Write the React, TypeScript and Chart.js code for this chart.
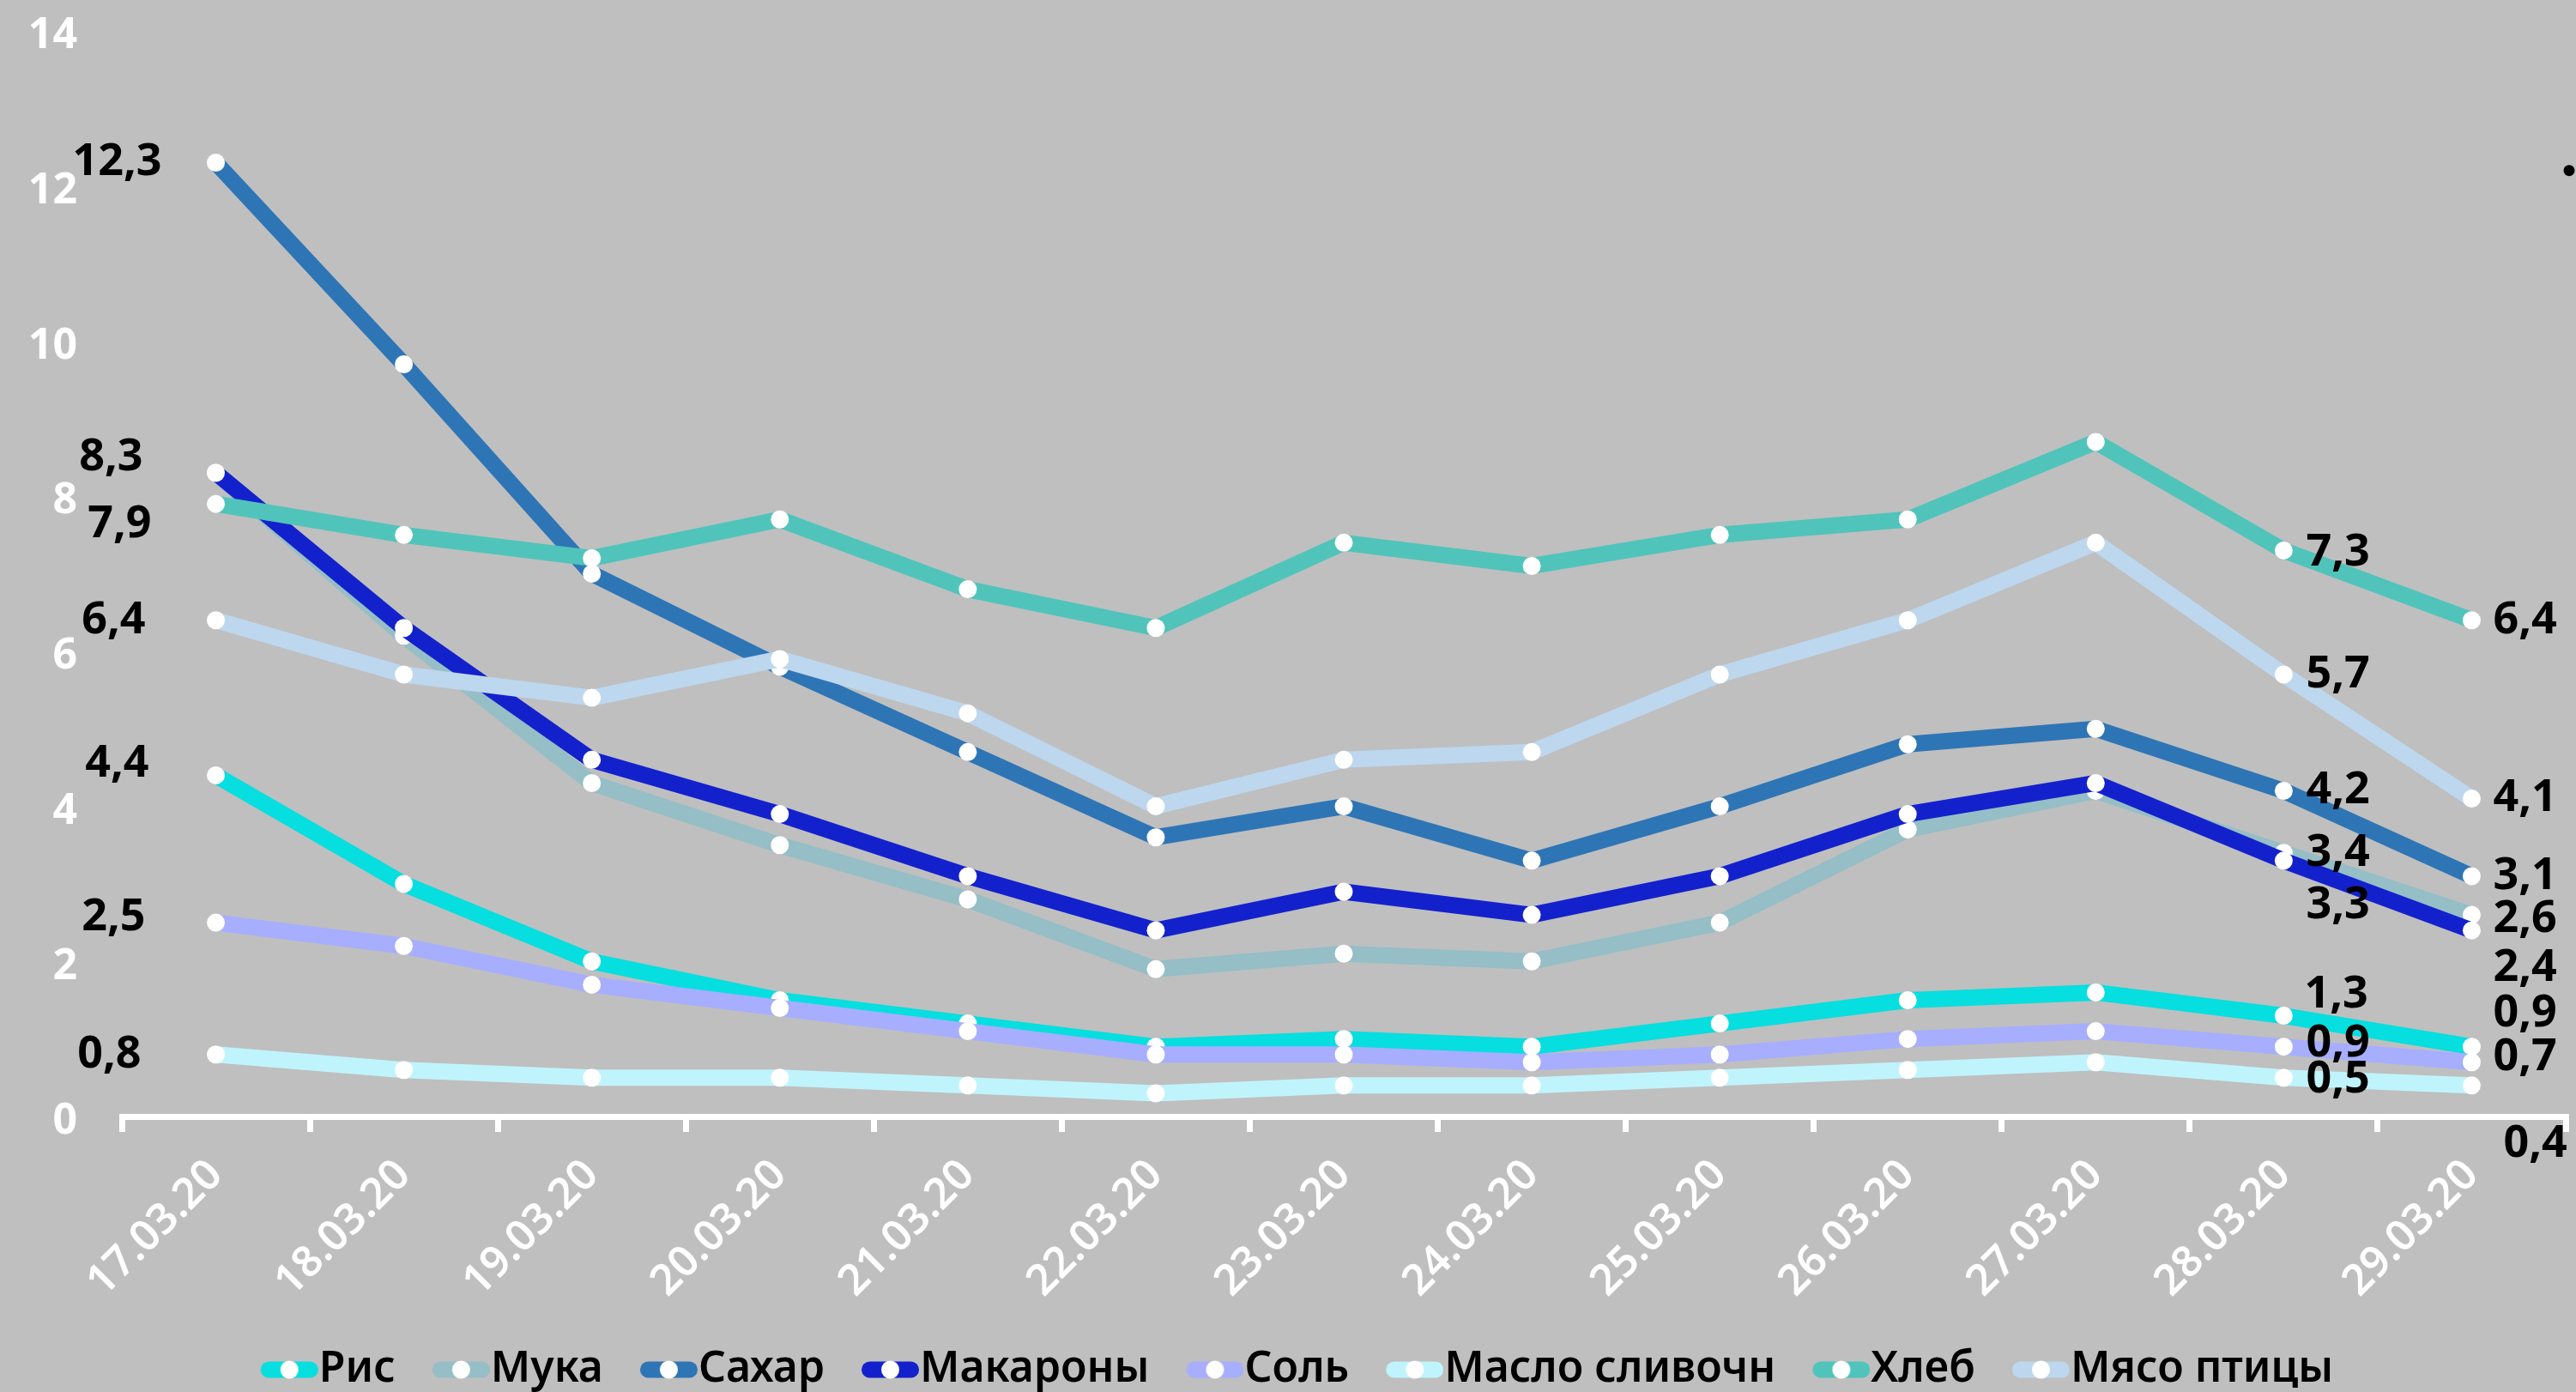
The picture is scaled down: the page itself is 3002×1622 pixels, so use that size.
import React, { useEffect, useRef } from 'react';
import { Chart, registerables } from 'chart.js';

Chart.register(...registerables);

// ---------- data ----------
const categories = [
  '17.03.20', '18.03.20', '19.03.20', '20.03.20', '21.03.20', '22.03.20', '23.03.20',
  '24.03.20', '25.03.20', '26.03.20', '27.03.20', '28.03.20', '29.03.20',
];
const seriesNames = ['Рис', 'Мука', 'Сахар', 'Макароны', 'Соль', 'Масло сливочн', 'Хлеб', 'Мясо птицы'];

const ris = [4.4, 3.0, 2.0, 1.5, 1.2, 0.9, 1.0, 0.9, 1.2, 1.5, 1.6, 1.3, 0.9];
const muka = [8.3, 6.2, 4.3, 3.5, 2.8, 1.9, 2.1, 2.0, 2.5, 3.7, 4.2, 3.4, 2.6];
const sakhar = [12.3, 9.7, 7.0, 5.8, 4.7, 3.6, 4.0, 3.3, 4.0, 4.8, 5.0, 4.2, 3.1];
const makarony = [8.3, 6.3, 4.6, 3.9, 3.1, 2.4, 2.9, 2.6, 3.1, 3.9, 4.3, 3.3, 2.4];
const sol = [2.5, 2.2, 1.7, 1.4, 1.1, 0.8, 0.8, 0.7, 0.8, 1.0, 1.1, 0.9, 0.7];
const maslo = [0.8, 0.6, 0.5, 0.5, 0.4, 0.3, 0.4, 0.4, 0.5, 0.6, 0.7, 0.5, 0.4];
const khleb = [7.9, 7.5, 7.2, 7.7, 6.8, 6.3, 7.4, 7.1, 7.5, 7.7, 8.7, 7.3, 6.4];
const myaso = [6.4, 5.7, 5.4, 5.9, 5.2, 4.0, 4.6, 4.7, 5.7, 6.4, 7.4, 5.7, 4.1];

const seriesValues = [ris, muka, sakhar, makarony, sol, maslo, khleb, myaso];

const yMin = 0;
const yMax = 14;
const yStep = 2;
const strayDotValue = 12.2;

// ---------- styles ----------
const seriesColors = ['#07DEDF', '#95BEC6', '#2E75B6', '#1321CD', '#A7AEFE', '#C0F4FC', '#50C4BA', '#BDD7EE'];
const BG = '#BFBFBF';
const FONT = "'Noto Sans', 'Open Sans', sans-serif";

// value label placements: [seriesIndex, pointIndex, dx, dy, align]
const labelPlacements: Array<[number, number, number, number, CanvasTextAlign]> = [
  [2, 0, -63, 0, 'right'],
  [3, 0, -85, -18, 'right'],
  [6, 0, -75, 24, 'right'],
  [7, 0, -82, 0, 'right'],
  [0, 0, -78, -13, 'right'],
  [4, 0, -82, -6, 'right'],
  [5, 0, -87, 0, 'right'],

  [6, 11, 26, 3, 'left'],
  [7, 11, 26, 0, 'left'],
  [2, 11, 26, 0, 'left'],
  [1, 11, 26, 0, 'left'],
  [3, 11, 26, 52, 'left'],
  [0, 11, 24, -24, 'left'],
  [4, 11, 26, -3, 'left'],
  [5, 11, 26, 2, 'left'],

  [6, 12, 25, 0, 'left'],
  [7, 12, 25, 0, 'left'],
  [2, 12, 25, 0, 'left'],
  [1, 12, 25, 5, 'left'],
  [3, 12, 25, 44, 'left'],
  [0, 12, 25, -38, 'left'],
  [4, 12, 25, -6, 'left'],
  [5, 12, 37, 68, 'left'],
];

const valueLabelsPlugin = {
  id: 'valueLabels',
  afterDatasetsDraw(chart: any) {
    const ctx = chart.ctx as CanvasRenderingContext2D;
    ctx.save();
    ctx.font = `bold 52px ${FONT}`;
    ctx.fillStyle = '#000';
    ctx.textBaseline = 'middle';
    for (const [s, i, dx, dy, align] of labelPlacements) {
      const meta = chart.getDatasetMeta(s);
      const pt = meta.data[i];
      if (!pt) continue;
      const v = chart.data.datasets[s].data[i] as number;
      ctx.textAlign = align;
      ctx.fillText(v.toFixed(1).replace('.', ','), pt.x + dx, pt.y + dy);
    }
    const yScale = chart.scales.y;
    ctx.beginPath();
    ctx.arc(chart.chartArea.right + 4, yScale.getPixelForValue(strayDotValue), 6.5, 0, Math.PI * 2);
    ctx.fill();
    ctx.restore();
  },
};

function makeMarker(color: string): HTMLCanvasElement {
  const w = 124;
  const h = 26;
  const c = document.createElement('canvas');
  c.width = w;
  c.height = h;
  const g = c.getContext('2d')!;
  const lw = 19;
  const len = 67;
  g.strokeStyle = color;
  g.lineWidth = lw;
  g.lineCap = 'round';
  g.beginPath();
  g.moveTo(w - len + lw / 2, h / 2);
  g.lineTo(w - lw / 2, h / 2);
  g.stroke();
  g.fillStyle = '#fff';
  g.beginPath();
  g.arc(w - len / 2, h / 2, 10.5, 0, Math.PI * 2);
  g.fill();
  return c;
}

export default function App() {
  const canvasRef = useRef<HTMLCanvasElement | null>(null);

  useEffect(() => {
    document.documentElement.style.background = BG;
    document.body.style.margin = '0';
    document.body.style.background = BG;
    const canvas = canvasRef.current;
    if (!canvas) return;

    const markers = seriesColors.map((c) => makeMarker(c));
    const n = seriesNames.length;

    const chart = new Chart(canvas, {
      type: 'line',
      data: {
        labels: categories,
        datasets: seriesNames.map((name, i) => ({
          label: name,
          data: seriesValues[i],
          borderColor: seriesColors[i],
          backgroundColor: seriesColors[i],
          borderWidth: 19,
          borderJoinStyle: 'round' as const,
          borderCapStyle: 'round' as const,
          pointRadius: 10.5,
          pointHoverRadius: 10.5,
          pointBackgroundColor: '#FFFFFF',
          pointBorderWidth: 0,
          pointBorderColor: '#FFFFFF',
          tension: 0,
          fill: false,
          order: n - i,
        })),
      },
      options: {
        responsive: false,
        animation: false,
        devicePixelRatio: 1,
        events: [],
        layout: { padding: { top: 36, right: 12, left: 0, bottom: 0 } },
        scales: {
          x: {
            offset: true,
            grid: {
              display: true,
              offset: true,
              drawOnChartArea: false,
              drawTicks: true,
              tickLength: 18,
              color: '#FFFFFF',
              lineWidth: 7,
            },
            border: { display: true, color: '#FFFFFF', width: 7 },
            ticks: {
              color: '#FFFFFF',
              font: { family: FONT, size: 50, weight: '600' as any },
              minRotation: 45,
              maxRotation: 45,
              autoSkip: false,
              padding: 21,
            },
            afterFit: (s: any) => {
              s.height = 260;
            },
          },
          y: {
            min: yMin,
            max: yMax,
            grid: { display: false, drawTicks: false },
            border: { display: false },
            ticks: {
              stepSize: yStep,
              color: '#FFFFFF',
              font: { family: FONT, size: 50, weight: 'bold' },
              padding: 52,
              labelOffset: 6,
            },
            afterFit: (s: any) => {
              s.width = 142;
              s.paddingTop = 0;
              s.paddingBottom = 0;
            },
          },
        },
        plugins: {
          tooltip: { enabled: false },
          legend: {
            display: true,
            position: 'bottom',
            maxHeight: 61,
            labels: {
              usePointStyle: true,
              pointStyleWidth: 76,
              padding: 10,
              color: '#000000',
              font: { family: FONT, size: 50, weight: '600' as any },
              generateLabels: (ch: any) =>
                ch.data.datasets.map((ds: any, i: number) => ({
                  text: ds.label,
                  fillStyle: ds.borderColor,
                  strokeStyle: ds.borderColor,
                  lineWidth: 0,
                  pointStyle: markers[i],
                  hidden: !ch.isDatasetVisible(i),
                  datasetIndex: i,
                  fontColor: '#000000',
                })),
            },
          },
        },
      },
      plugins: [valueLabelsPlugin],
    });

    return () => {
      chart.destroy();
    };
  }, []);

  return (
    <div style={{ width: 3002, height: 1622, background: BG, overflow: 'hidden' }}>
      <canvas ref={canvasRef} width={3002} height={1622} style={{ display: 'block', width: 3002, height: 1622 }} />
    </div>
  );
}
